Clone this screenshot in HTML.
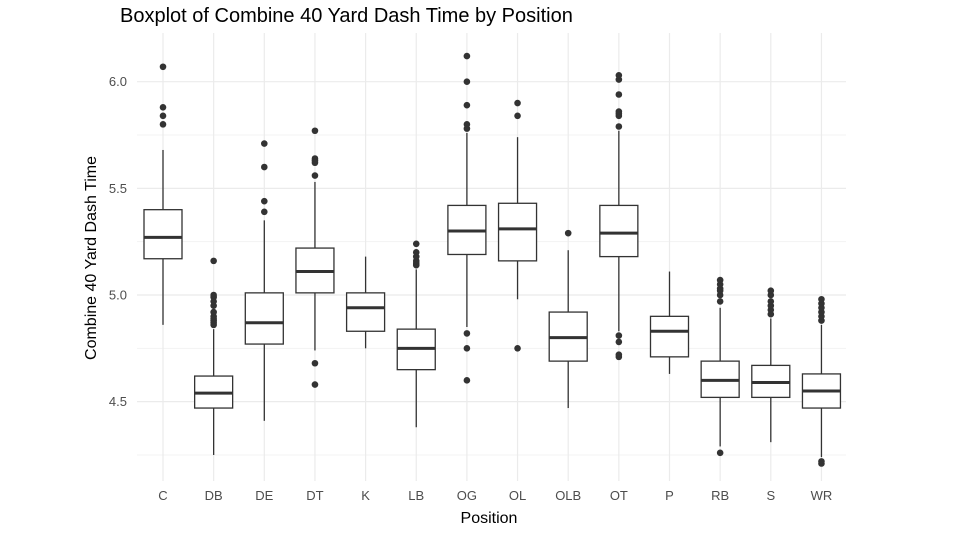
<!DOCTYPE html>
<html><head><meta charset="utf-8"><style>
body{margin:0;background:#fff;font-family:"Liberation Sans",Arial,sans-serif;}
svg text{font-family:"Liberation Sans",Arial,sans-serif;}
</style></head><body>
<svg id="chart" width="955" height="547" viewBox="0 0 955 547" xmlns="http://www.w3.org/2000/svg">
<rect width="955" height="547" fill="#fff"/>
<text x="120" y="22" font-size="20" fill="#000">Boxplot of Combine 40 Yard Dash Time by Position</text>
<text transform="translate(96,258) rotate(-90)" text-anchor="middle" font-size="16" fill="#000">Combine 40 Yard Dash Time</text>
<text x="489" y="523" text-anchor="middle" font-size="16" fill="#000">Position</text>
<g id="grid"></g><g id="marks"></g><g id="axes"></g>
</svg>
<script>
const categories=["C","DB","DE","DT","K","LB","OG","OL","OLB","OT","P","RB","S","WR"];
const q1=[5.17,4.47,4.77,5.01,4.83,4.65,5.19,5.16,4.69,5.18,4.71,4.52,4.52,4.47];
const medians=[5.27,4.54,4.87,5.11,4.94,4.75,5.30,5.31,4.80,5.29,4.83,4.60,4.59,4.55];
const q3=[5.40,4.62,5.01,5.22,5.01,4.84,5.42,5.43,4.92,5.42,4.90,4.69,4.67,4.63];
const whiskLow=[4.86,4.25,4.41,4.74,4.75,4.38,4.85,4.98,4.47,4.83,4.63,4.29,4.31,4.24];
const whiskHigh=[5.68,4.84,5.35,5.53,5.18,5.12,5.76,5.74,5.21,5.77,5.11,4.94,4.89,4.86];
const outliers=[
[5.80,5.84,5.88,6.07],
[4.86,4.87,4.88,4.89,4.90,4.92,4.95,4.97,4.99,5.00,5.16],
[5.39,5.44,5.60,5.71],
[4.58,4.68,5.56,5.62,5.63,5.64,5.77],
[],
[5.14,5.15,5.16,5.18,5.20,5.24],
[4.60,4.75,4.82,5.78,5.80,5.89,6.00,6.12],
[4.75,5.84,5.90],
[5.29],
[4.71,4.72,4.78,4.81,5.79,5.84,5.85,5.86,5.94,6.01,6.03],
[],
[4.26,4.97,5.00,5.02,5.03,5.05,5.07],
[4.91,4.93,4.95,4.97,5.00,5.02],
[4.21,4.22,4.88,4.90,4.92,4.94,4.96,4.98]];
const yTicks=[4.5,5.0,5.5,6.0];
const yMinor=[4.25,4.75,5.25,5.75];
const NS="http://www.w3.org/2000/svg";
const L=137,R=846,T=33,B=481;
function y(v){return 295-(v-5)*213.3;}
function x(i){return 163+i*50.65;}
function mk(p,t,a){const e=document.createElementNS(NS,t);for(const k in a)e.setAttribute(k,a[k]);document.getElementById(p).appendChild(e);return e;}
yMinor.forEach(v=>{const e=mk("grid","line",{x1:L,x2:R,y1:y(v),y2:y(v),stroke:"#f3f3f3","stroke-width":1});

});
yTicks.forEach(v=>{const e=mk("grid","line",{x1:L,x2:R,y1:y(v),y2:y(v),stroke:"#ebebeb","stroke-width":1.2});


const t=mk("axes","text",{x:127,y:y(v)+4.5,"text-anchor":"end","font-size":13,fill:"#4d4d4d"});t.textContent=v.toFixed(1);

});
categories.forEach((c,i)=>{const g=mk("grid","line",{x1:x(i),x2:x(i),y1:T,y2:B,stroke:"#ebebeb","stroke-width":1.2});


const t=mk("axes","text",{x:x(i),y:500,"text-anchor":"middle","font-size":13,fill:"#4d4d4d"});t.textContent=c;


const cx=x(i),w=19,col="#333";
const wl=mk("marks","line",{x1:cx,x2:cx,y1:y(whiskHigh[i]),y2:y(q3[i]),stroke:col,"stroke-width":1.3});


const wl2=mk("marks","line",{x1:cx,x2:cx,y1:y(q1[i]),y2:y(whiskLow[i]),stroke:col,"stroke-width":1.3});


const b=mk("marks","rect",{x:cx-w,y:y(q3[i]),width:2*w,height:y(q1[i])-y(q3[i]),fill:"#fff",stroke:col,"stroke-width":1.3});


const m=mk("marks","line",{x1:cx-w,x2:cx+w,y1:y(medians[i]),y2:y(medians[i]),stroke:col,"stroke-width":3});


outliers[i].forEach(v=>{const o=mk("marks","circle",{cx:cx,cy:y(v),r:3.3,fill:col});

});
});
</script>
</body></html>
